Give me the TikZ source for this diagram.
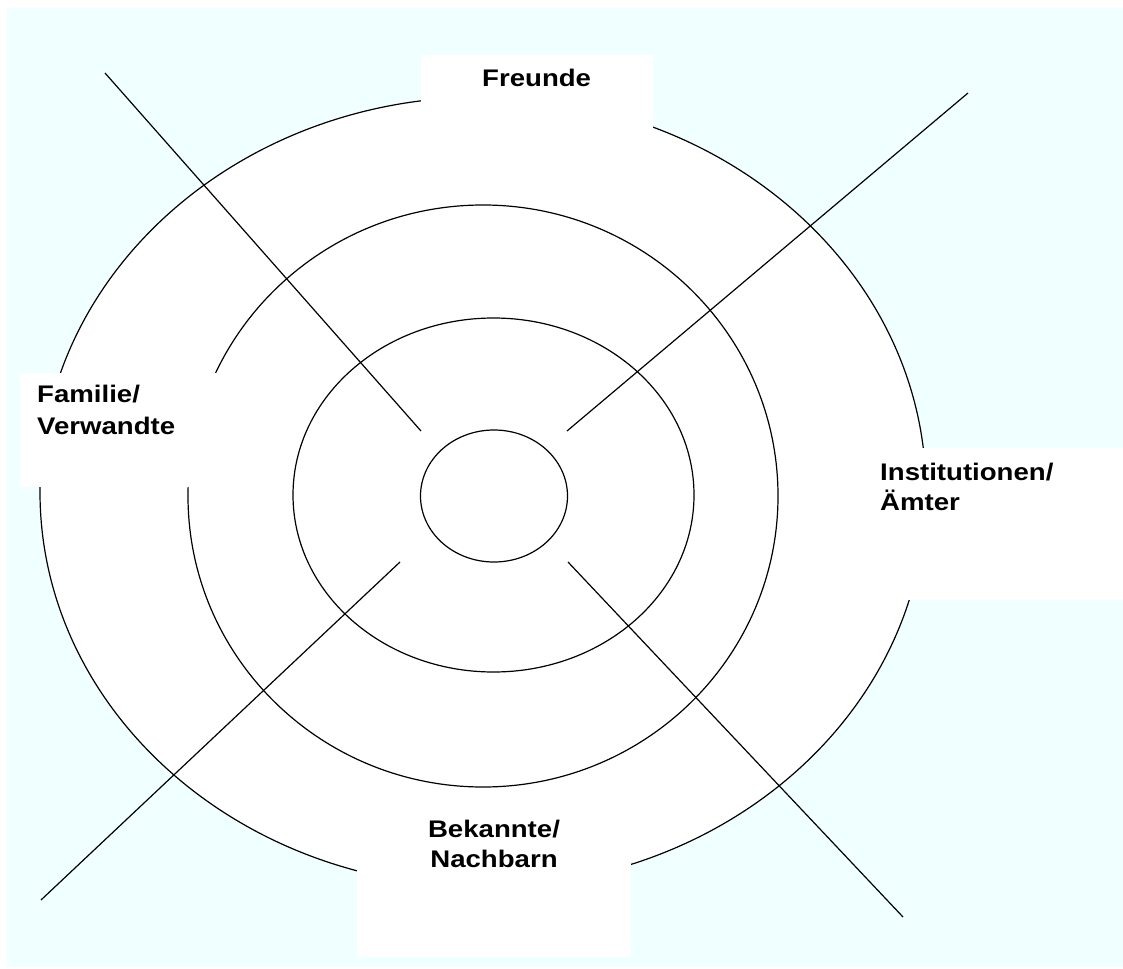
\documentclass[tikz,border=0pt]{standalone}
\usepackage{fontspec}
\setmainfont{Liberation Sans}[FakeStretch=1.15]
\usetikzlibrary{shapes.geometric}
\definecolor{bgcyan}{RGB}{240,255,255}
\tikzset{
  ring/.style={ellipse, draw=black, fill=white, line width=1.2pt, inner sep=0pt},
  spoke/.style={draw=black, line width=1.2pt},
  labelbox/.style={fill=white, draw=none},
  lbl/.style={font=\bfseries\fontsize{24}{30}\selectfont, inner sep=0pt, text=black}
}
\begin{document}
\begin{tikzpicture}[x=1pt,y=-1pt]
\useasboundingbox (0,0) rectangle (1123,968);
\fill[white] (0,0) rectangle (1123,968);
\fill[bgcyan] (7,8) rectangle (1123,967);
% rings
\node[ring, minimum width=886pt, minimum height=790pt] (r1) at (483,492) {};
\node[ring, minimum width=590pt, minimum height=582pt] (r2) at (483,496) {};
\node[ring, minimum width=401pt, minimum height=354pt] (r3) at (493.5,495) {};
\node[ring, minimum width=147pt, minimum height=132pt] (r4) at (494,496) {};
% spoke end points
\coordinate (a1) at (105,73);   \coordinate (a2) at (421,431);
\coordinate (b1) at (968,93);   \coordinate (b2) at (567,431);
\coordinate (c1) at (400,562);  \coordinate (c2) at (41,900);
\coordinate (d1) at (568,562);  \coordinate (d2) at (903,917);
\draw[spoke] (a1) -- (a2);
\draw[spoke] (b1) -- (b2);
\draw[spoke] (c1) -- (c2);
\draw[spoke] (d1) -- (d2);
% label boxes
\path[labelbox] (421,55) rectangle (653,170);
\path[labelbox] (20,373) rectangle (250,487);
\path[labelbox] (868,448) rectangle (1123,600);
\path[labelbox] (357,800) rectangle (631,957);
% labels
\node[lbl, anchor=base west] (freunde) at (482,87) {Freunde};
\node[lbl, anchor=base west] (familie1) at (37,402) {Familie/};
\node[lbl, anchor=base west] (familie2) at (37,434) {Verwandte};
\node[lbl, anchor=base west] (inst1) at (880,480) {Institutionen/};
\node[lbl, anchor=base west] (inst2) at (880,510) {Ämter};
\node[lbl, anchor=base] (bek1) at (494,837) {Bekannte/};
\node[lbl, anchor=base] (bek2) at (494,867) {Nachbarn};
\end{tikzpicture}
\end{document}
